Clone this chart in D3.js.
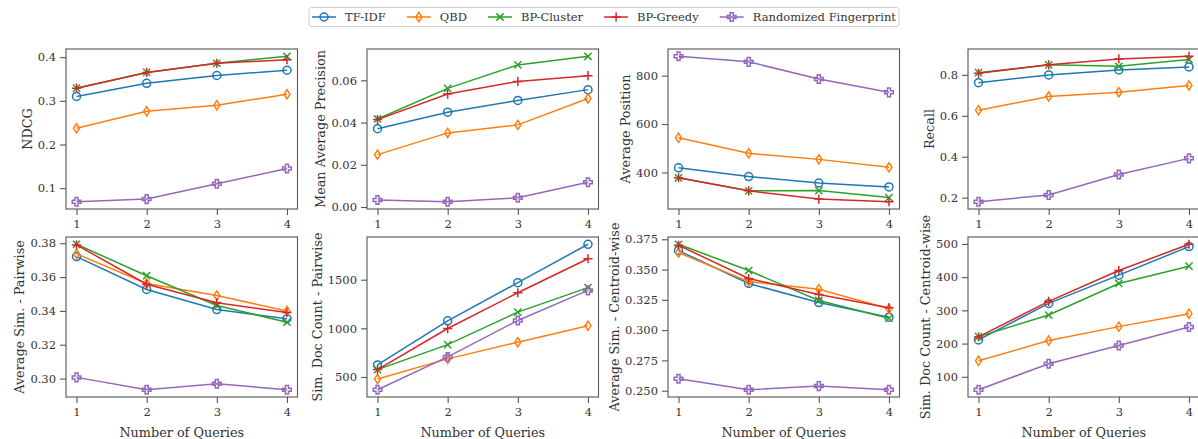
<!DOCTYPE html>
<html>
<head>
<meta charset="utf-8">
<script src="https://cdn.jsdelivr.net/npm/d3@7"></script>
<style>
  html, body { margin: 0; padding: 0; background: #fff; }
  svg { display: block; }
  text { font-family: "DejaVu Serif", serif; }
</style>
</head>
<body>
<script>
// ---------------- data ----------------
const queries = [1, 2, 3, 4];
const methods = ["TF-IDF", "QBD", "BP-Cluster", "BP-Greedy", "Randomized Fingerprint"];

// rows follow the order of `methods`
const ndcg = [
  [0.310, 0.340, 0.358, 0.370],
  [0.237, 0.276, 0.290, 0.315],
  [0.329, 0.365, 0.386, 0.402],
  [0.329, 0.365, 0.386, 0.394],
  [0.069, 0.075, 0.110, 0.145]
];
const meanAvgPrecision = [
  [0.0371, 0.0449, 0.0505, 0.0556],
  [0.0248, 0.0351, 0.0389, 0.0514],
  [0.0417, 0.0562, 0.0673, 0.0714],
  [0.0414, 0.0535, 0.0595, 0.0622],
  [0.0033, 0.0025, 0.0044, 0.0117]
];
const avgPosition = [
  [419, 383, 356, 340],
  [543, 479, 454, 421],
  [378, 324, 325, 296],
  [378, 324, 290, 279],
  [880, 857, 786, 731]
];
const recall = [
  [0.762, 0.800, 0.824, 0.839],
  [0.627, 0.694, 0.715, 0.748],
  [0.811, 0.849, 0.842, 0.875],
  [0.808, 0.849, 0.878, 0.891],
  [0.180, 0.213, 0.313, 0.392]
];
const avgSimPairwise = [
  [0.3721, 0.3527, 0.3408, 0.3354],
  [0.3737, 0.3562, 0.3491, 0.3400],
  [0.3794, 0.3608, 0.3432, 0.3333],
  [0.3790, 0.3558, 0.3448, 0.3390],
  [0.3007, 0.2934, 0.2969, 0.2934]
];
const simDocCountPairwise = [
  [624, 1077, 1469, 1864],
  [479, 686, 857, 1026],
  [576, 833, 1167, 1418],
  [576, 998, 1366, 1715],
  [369, 706, 1081, 1390]
];
const avgSimCentroid = [
  [0.3657, 0.3385, 0.3228, 0.3107],
  [0.3640, 0.3401, 0.3338, 0.3176],
  [0.3709, 0.3492, 0.3245, 0.3099],
  [0.3701, 0.3426, 0.3294, 0.3184],
  [0.2599, 0.2508, 0.2538, 0.2508]
];
const simDocCountCentroid = [
  [211, 321, 406, 492],
  [148, 209, 251, 290],
  [221, 286, 381, 433],
  [220, 327, 420, 499],
  [61, 139, 194, 250]
];

const ticksNdcg = [0.1, 0.2, 0.3, 0.4];
const ticksMap = [0.00, 0.02, 0.04, 0.06];
const ticksPos = [400, 600, 800];
const ticksRecall = [0.2, 0.4, 0.6, 0.8];
const ticksSimPair = [0.30, 0.32, 0.34, 0.36, 0.38];
const ticksCountPair = [500, 1000, 1500];
const ticksSimCent = [0.250, 0.275, 0.300, 0.325, 0.350, 0.375];
const ticksCountCent = [100, 200, 300, 400, 500];

const yLabels = ["NDCG", "Mean Average Precision", "Average Position", "Recall",
  "Average Sim. - Pairwise", "Sim. Doc Count - Pairwise", "Average Sim. - Centroid-wise", "Sim. Doc Count - Centroid-wise"];
const xLabel = "Number of Queries";

// ---------------- styles ----------------
const colors = ["#1f77b4", "#ff7f0e", "#2ca02c", "#d62728", "#9467bd"];
const markerTypes = ["circle", "thin_diamond", "x", "plus", "plus_filled"];

const panels = [
  { values: ndcg, ticks: ticksNdcg, fmt: d3.format(".1f") },
  { values: meanAvgPrecision, ticks: ticksMap, fmt: d3.format(".2f") },
  { values: avgPosition, ticks: ticksPos, fmt: d3.format("d") },
  { values: recall, ticks: ticksRecall, fmt: d3.format(".1f") },
  { values: avgSimPairwise, ticks: ticksSimPair, fmt: d3.format(".2f") },
  { values: simDocCountPairwise, ticks: ticksCountPair, fmt: d3.format("d") },
  { values: avgSimCentroid, ticks: ticksSimCent, fmt: d3.format(".3f") },
  { values: simDocCountCentroid, ticks: ticksCountCent, fmt: d3.format("d") }
];

const W = 1198, H = 439;
const colX = [66, 367, 668, 968];
const rowY = [49, 237];
const pw = 231.5, ph = 160;
const tickFont = 11.5, labelFont = 12.8, legendFont = 11.5;
const textColor = "#333";
const spineColor = "#555";

const svg = d3.select("body").append("svg").attr("width", W).attr("height", H);

function markerPath(type) {
  const p = d3.path();
  if (type === "thin_diamond") {
    p.moveTo(0, -4.6); p.lineTo(3, 0); p.lineTo(0, 4.6); p.lineTo(-3, 0); p.closePath();
  } else if (type === "x") {
    p.moveTo(-3.6, -3.6); p.lineTo(3.6, 3.6); p.moveTo(-3.6, 3.6); p.lineTo(3.6, -3.6);
  } else if (type === "plus") {
    p.moveTo(-4.6, 0); p.lineTo(4.6, 0); p.moveTo(0, -4.6); p.lineTo(0, 4.6);
  } else if (type === "plus_filled") {
    const o = 4.3, a = 1.5;
    p.moveTo(-a, -o); p.lineTo(a, -o); p.lineTo(a, -a); p.lineTo(o, -a); p.lineTo(o, a);
    p.lineTo(a, a); p.lineTo(a, o); p.lineTo(-a, o); p.lineTo(-a, a); p.lineTo(-o, a);
    p.lineTo(-o, -a); p.lineTo(-a, -a); p.closePath();
  }
  return p.toString();
}

function drawMarker(g, type, color, cx, cy) {
  if (type === "circle") {
    g.append("circle").attr("cx", cx).attr("cy", cy).attr("r", 4)
      .attr("fill", "none").attr("stroke", color).attr("stroke-width", 1.5);
  } else {
    g.append("path").attr("d", markerPath(type)).attr("transform", `translate(${cx},${cy})`)
      .attr("fill", "none").attr("stroke", color).attr("stroke-width", 1.5)
      .attr("stroke-linejoin", "miter");
  }
}

panels.forEach((pan, i) => {
  const col = i % 4, row = Math.floor(i / 4);
  const g = svg.append("g").attr("transform", `translate(${colX[col]},${rowY[row]})`);

  const x = d3.scaleLinear().domain([0.85, 4.15]).range([0, pw]);
  const all = pan.values.flat();
  const [mn, mx] = d3.extent(all);
  const pad = (mx - mn) * 0.05;
  const y = d3.scaleLinear().domain([mn - pad, mx + pad]).range([ph, 0]);

  // x axis
  const xa = g.append("g").attr("transform", `translate(0,${ph})`)
    .call(d3.axisBottom(x).tickValues(queries).tickFormat(d3.format("d")).tickSize(6).tickPadding(5));
  // y axis
  const ya = g.append("g")
    .call(d3.axisLeft(y).tickValues(pan.ticks).tickFormat(pan.fmt).tickSize(6).tickPadding(4));
  [xa, ya].forEach(a => {
    a.select(".domain").remove();
    a.selectAll(".tick line").attr("stroke", spineColor).attr("stroke-width", 1.1);
    a.selectAll(".tick text").attr("fill", textColor).style("font-size", tickFont + "px")
      .style("font-family", "DejaVu Serif");
  });

  // frame
  g.append("rect").attr("x", 0).attr("y", 0).attr("width", pw).attr("height", ph)
    .attr("fill", "none").attr("stroke", spineColor).attr("stroke-width", 1.1);

  // series
  const line = d3.line().x((d, k) => x(queries[k])).y(d => y(d));
  pan.values.forEach((vals, m) => {
    g.append("path").attr("d", line(vals)).attr("fill", "none")
      .attr("stroke", colors[m]).attr("stroke-width", 1.5);
    vals.forEach((v, k) => drawMarker(g, markerTypes[m], colors[m], x(queries[k]), y(v)));
  });

  // y label
  const bb = ya.node().getBBox();
  g.append("text").attr("transform", `translate(${bb.x - 6},${ph / 2}) rotate(-90)`)
    .attr("text-anchor", "middle").attr("fill", textColor)
    .style("font-size", labelFont + "px").text(yLabels[i]);

  // x label
  if (row === 1) {
    g.append("text").attr("x", pw / 2).attr("y", ph + 40).attr("text-anchor", "middle")
      .attr("fill", textColor).style("font-size", labelFont + "px").text(xLabel);
  }
});

// ---------------- legend ----------------
const leg = svg.append("g");
const legCenterX = 604, legCy = 17;
const handleLen = 24, handleGap = 9, entryGap = 21, boxPadX = 3;
let cursor = 0;
const items = [];
methods.forEach((name, m) => {
  const it = leg.append("g");
  it.append("line").attr("x1", 0).attr("x2", handleLen).attr("y1", 0).attr("y2", 0)
    .attr("stroke", colors[m]).attr("stroke-width", 1.5);
  drawMarker(it, markerTypes[m], colors[m], handleLen / 2, 0);
  const t = it.append("text").attr("x", handleLen + handleGap).attr("y", 0).attr("dy", "0.35em")
    .attr("fill", textColor).style("font-size", legendFont + "px").text(name);
  const w = handleLen + handleGap + t.node().getComputedTextLength();
  items.push({ it, x: cursor });
  cursor += w + entryGap;
});
const totalW = cursor - entryGap + boxPadX * 2;
const x0 = legCenterX - totalW / 2;
leg.insert("rect", ":first-child").attr("x", x0).attr("y", legCy - 9.5).attr("width", totalW).attr("height", 19)
  .attr("rx", 2.5).attr("fill", "#fff").attr("stroke", "#ccc").attr("stroke-width", 1);
items.forEach(d => d.it.attr("transform", `translate(${x0 + boxPadX + d.x},${legCy})`));
</script>
</body>
</html>
